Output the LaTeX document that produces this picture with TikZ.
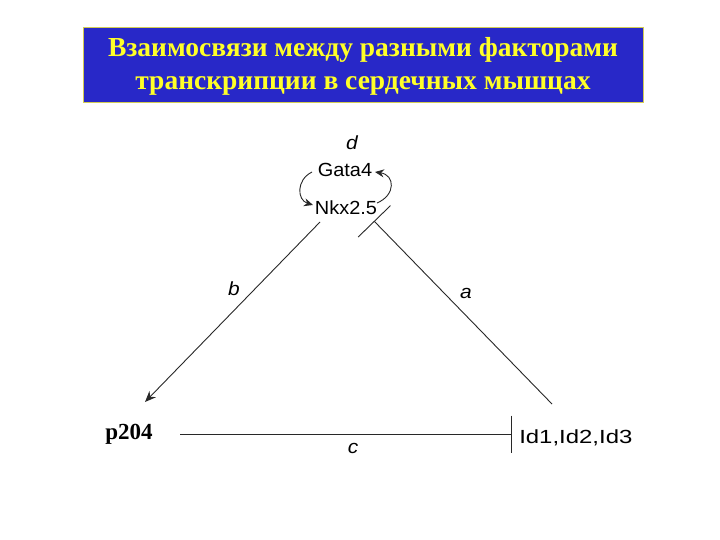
\documentclass[tikz,border=0pt]{standalone}
\usepackage{fontspec}
\setmainfont{Liberation Serif}
\newfontfamily\arialf{Liberation Sans}
\usetikzlibrary{arrows.meta}
\definecolor{titleblue}{RGB}{40,40,200}
\definecolor{titleyellow}{RGB}{255,255,40}
\definecolor{lin}{RGB}{40,40,40}
\tikzset{
  gene/.style={font=\arialf\fontsize{19}{19}\selectfont, xscale=1.05, inner sep=0pt},
  edgelab/.style={font=\arialf\itshape\fontsize{19}{19}\selectfont, xscale=1.1, inner sep=0pt},
  conn/.style={draw=lin, line width=0.9pt},
  titletext/.style={font=\bfseries\fontsize{27.5}{33}\selectfont, text=titleyellow, align=center}
}
\begin{document}
\begin{tikzpicture}[x=1pt,y=-1pt]
\useasboundingbox (0,0) rectangle (720,540);
\fill[white] (0,0) rectangle (720,540);
% title
\node[draw=yellow!60!gray, line width=0.6pt, fill=titleblue, minimum width=560pt, minimum height=75pt, inner sep=0pt, anchor=north west] (title) at (83,27) {};
\node[titletext] (titletxt) at (363,66) {Взаимосвязи между разными факторами\\транскрипции в сердечных мышцах};
% genes
\node[edgelab] (d) at (352,143) {d};
\node[gene] (gata) at (345,170) {Gata4};
\node[gene] (nkx) at (346,208) {Nkx2.5};
\node[font=\bfseries\fontsize{23}{23}\selectfont, inner sep=0pt] (p204) at (129,434) {p204};
\node[gene, xscale=1.2, anchor=west] (ids) at (519,438) {Id1,Id2,Id3};
% edge labels
\node[edgelab] (lb) at (234,289) {b};
\node[edgelab] (la) at (466,293) {a};
\node[edgelab] (lc) at (353,448) {c};
% coordinates
\coordinate (bstart) at (320,222);
\coordinate (bend) at (145,402);
\coordinate (astart) at (552,404);
\coordinate (aend) at (374,221);
\coordinate (cstart) at (180,434);
\coordinate (cend) at (512,434);
\coordinate (l1) at (312,172);
\coordinate (l2) at (313,205);
\coordinate (r1) at (377,203);
\coordinate (r2) at (375,172);
% connectors
\draw[conn, -{Stealth[length=11pt,width=9pt]}] (bstart) -- (bend);
\draw[conn, -{Bar[width=45pt]}] (astart) -- (aend);
\draw[conn, -{Bar[width=37pt]}] (cstart) -- (cend);
\draw[conn, -{Stealth[length=9pt,width=8pt]}] (l1) .. controls (296,180) and (297,200) .. (l2);
\draw[conn, -{Stealth[length=9pt,width=8pt]}] (r1) .. controls (396,195) and (395,175) .. (r2);
\end{tikzpicture}
\end{document}
